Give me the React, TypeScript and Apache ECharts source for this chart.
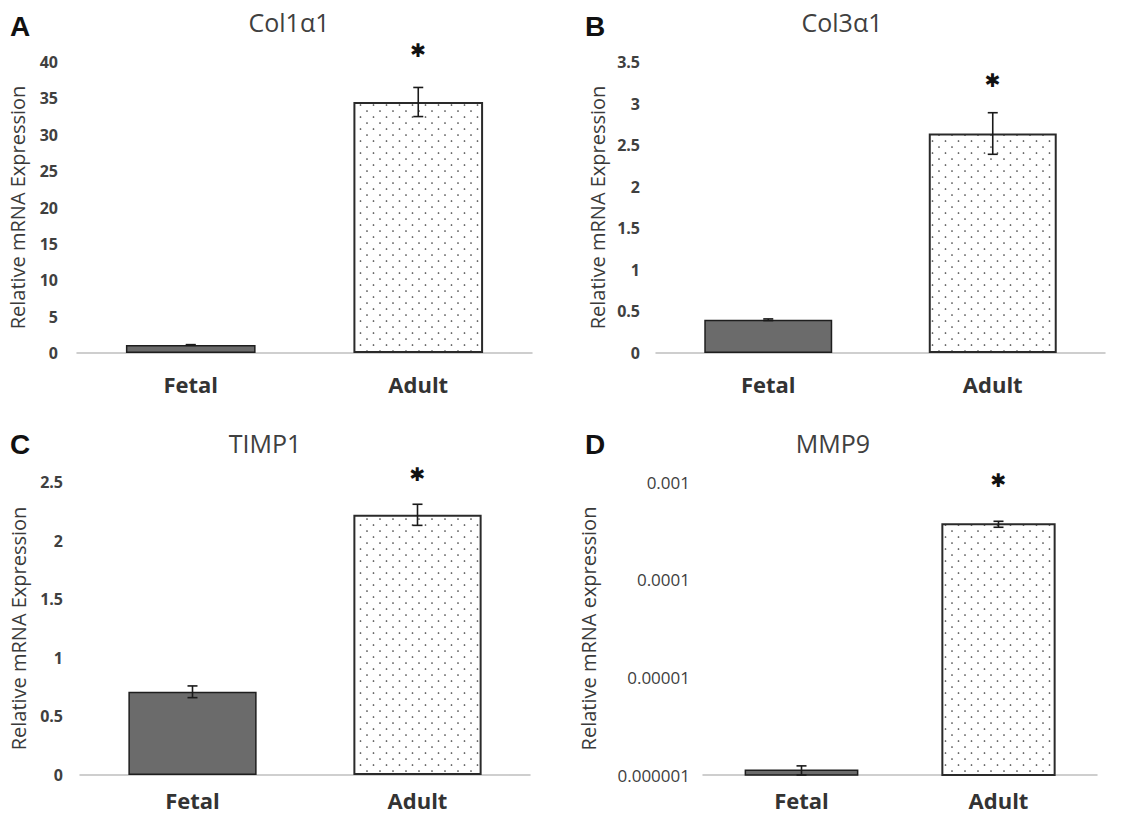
import React, { useEffect, useRef } from "react";
import * as echarts from "echarts";

// ---------- data ----------
const categories = ["Fetal", "Adult"];

const col1Values = [1.1, 34.5];
const col1Errors = [0.05, 2.0];

const col3Values = [0.4, 2.64];
const col3Errors = [0.01, 0.25];

const timp1Values = [0.71, 2.22];
const timp1Errors = [0.05, 0.09];

const mmp9Values = [1.12e-6, 3.7e-4];
const mmp9Errors = [0.12e-6, 0.26e-4];

// level (in data units) of the significance asterisk above the Adult bar
const starLevels = [41.6, 3.28, 2.57, 1.05e-3];

const mmp9TickLabels = ["0.000001", "0.00001", "0.0001", "0.001"];

const panelTitles = ["Col1\u03b11", "Col3\u03b11", "TIMP1", "MMP9"];
const panelLetters = ["A", "B", "C", "D"];

// ---------- styling ----------
const FONT = "'Open Sans', 'DejaVu Sans', sans-serif";
const TXT = "#404040";
const FETAL_FILL = "#6b6b6b";

function makeDotPattern(): any {
  const c = document.createElement("canvas");
  c.width = 13;
  c.height = 12;
  const g = c.getContext("2d")!;
  g.fillStyle = "#ffffff";
  g.fillRect(0, 0, 13, 12);
  g.fillStyle = "#3a3a3a";
  g.beginPath();
  g.arc(3, 3, 0.85, 0, Math.PI * 2);
  g.fill();
  g.beginPath();
  g.arc(9.5, 9, 0.85, 0, Math.PI * 2);
  g.fill();
  return { image: c, repeat: "repeat" };
}

export default function App() {
  const ref = useRef<HTMLDivElement>(null);

  useEffect(() => {
    document.body.style.margin = "0";
    const chart = echarts.init(ref.current!, null, { renderer: "svg" });
    const dots = makeDotPattern();

    const grids = [
      { left: 77, top: 62, width: 455, height: 291 },
      { left: 656, top: 62, width: 449, height: 291 },
      { left: 80, top: 482, width: 450, height: 293 },
      { left: 703, top: 482, width: 394, height: 293 },
    ];

    const valueSets = [col1Values, col3Values, timp1Values, mmp9Values];
    const errorSets = [col1Errors, col3Errors, timp1Errors, mmp9Errors];
    const yRanges = [
      { min: 0, max: 40, interval: 5 },
      { min: 0, max: 3.5, interval: 0.5 },
      { min: 0, max: 2.5, interval: 0.5 },
    ];
    const labelMargins = [19, 16, 17, 13];
    const nameGaps = [50, 49, 52, 105];
    const catMargins = [20, 20, 14, 14];

    const xAxes = grids.map((_, i) => ({
      gridIndex: i,
      type: "category",
      data: categories,
      position: "bottom",
      axisLine: { onZero: false, lineStyle: { color: "#bfbfbf", width: 1.5 } },
      axisTick: { show: false },
      axisLabel: {
        color: "#333333",
        fontFamily: FONT,
        fontWeight: "bold",
        fontSize: 22,
        margin: catMargins[i],
      },
    }));

    const yAxes: any[] = grids.map((_, i) => {
      const base: any = {
        gridIndex: i,
        name: i === 3 ? "Relative mRNA expression" : "Relative mRNA Expression",
        nameLocation: "middle",
        nameRotate: 90,
        nameGap: nameGaps[i],
        nameTextStyle: { color: "#3a3a3a", fontFamily: FONT, fontSize: 20 },
        axisLine: { show: false },
        axisTick: { show: false },
        splitLine: { show: false },
        axisLabel: {
          color: TXT,
          fontFamily: FONT,
          fontSize: i === 3 ? 17 : 16,
          fontWeight: i === 3 ? "normal" : "bold",
          margin: labelMargins[i],
        },
      };
      if (i < 3) {
        return { ...base, type: "value", ...yRanges[i] };
      }
      return {
        ...base,
        type: "log",
        logBase: 10,
        min: 1e-6,
        max: 1e-3,
        splitNumber: 3,
        axisLabel: {
          ...base.axisLabel,
          formatter: (v: number) => mmp9TickLabels[Math.round(Math.log10(v)) + 6],
        },
      };
    });

    const series: any[] = [];

    // bars for linear panels
    for (let i = 0; i < 3; i++) {
      series.push({
        type: "bar",
        xAxisIndex: i,
        yAxisIndex: i,
        barWidth: "57%",
        data: valueSets[i].map((v, k) => ({
          value: v,
          itemStyle:
            k === 0
              ? { color: FETAL_FILL, borderColor: "#1e1e1e", borderWidth: 1.5 }
              : { color: dots, borderColor: "#2a2a2a", borderWidth: 2 },
        })),
      });
    }

    // bars for the log panel (drawn from the axis minimum)
    series.push({
      type: "custom",
      xAxisIndex: 3,
      yAxisIndex: 3,
      data: mmp9Values.map((v, k) => [k, v]),
      renderItem: (params: any, api: any) => {
        const k = api.value(0);
        const top = api.coord([k, api.value(1)]);
        const base = api.coord([k, 1e-6]);
        const band = api.size([1, 0])[0];
        const w = band * 0.57;
        return {
          type: "rect",
          shape: { x: top[0] - w / 2, y: top[1], width: w, height: base[1] - top[1] },
          style:
            k === 0
              ? { fill: FETAL_FILL, stroke: "#1e1e1e", lineWidth: 1.5 }
              : { fill: dots, stroke: "#2a2a2a", lineWidth: 2 },
        };
      },
    });

    // error bars
    for (let i = 0; i < 4; i++) {
      series.push({
        type: "custom",
        xAxisIndex: i,
        yAxisIndex: i,
        z: 5,
        data: valueSets[i].map((v, k) => [k, v - errorSets[i][k], v + errorSets[i][k]]),
        renderItem: (params: any, api: any) => {
          const k = api.value(0);
          const lo = api.coord([k, api.value(1)]);
          const hi = api.coord([k, api.value(2)]);
          const x = hi[0];
          const cap = 5;
          const st = { stroke: "#1a1a1a", lineWidth: 1.6 };
          return {
            type: "group",
            children: [
              { type: "line", shape: { x1: x, y1: hi[1], x2: x, y2: lo[1] }, style: st },
              { type: "line", shape: { x1: x - cap, y1: hi[1], x2: x + cap, y2: hi[1] }, style: st },
              { type: "line", shape: { x1: x - cap, y1: lo[1], x2: x + cap, y2: lo[1] }, style: st },
            ],
          };
        },
      });
    }

    // significance asterisks
    for (let i = 0; i < 4; i++) {
      series.push({
        type: "custom",
        xAxisIndex: i,
        yAxisIndex: i,
        z: 6,
        data: [[1, starLevels[i]]],
        renderItem: (params: any, api: any) => {
          const p = api.coord([api.value(0), api.value(1)]);
          return {
            type: "text",
            x: p[0],
            y: p[1],
            style: {
              text: "\u2731",
              fill: "#111111",
              fontFamily: "'DejaVu Sans', sans-serif",
              fontSize: 19,
              align: "center",
              verticalAlign: "middle",
            },
          };
        },
      });
    }

    const titlePos = [
      [289, 22],
      [842, 22],
      [265, 443],
      [833, 443],
    ];
    const letterPos = [
      [10, 26],
      [585, 26],
      [10, 444],
      [585, 444],
    ];
    const graphic: any[] = [];
    for (let i = 0; i < 4; i++) {
      graphic.push({
        type: "text",
        x: titlePos[i][0],
        y: titlePos[i][1],
        style: {
          text: panelTitles[i],
          fill: TXT,
          fontFamily: FONT,
          fontSize: 25,
          align: "center",
          verticalAlign: "middle",
        },
      });
      graphic.push({
        type: "text",
        x: letterPos[i][0],
        y: letterPos[i][1],
        style: {
          text: panelLetters[i],
          fill: "#111111",
          fontFamily: "'Liberation Sans', Arial, sans-serif",
          fontWeight: "bold",
          fontSize: 28,
          align: "left",
          verticalAlign: "middle",
        },
      });
    }

    chart.setOption({
      animation: false,
      backgroundColor: "#ffffff",
      grid: grids,
      xAxis: xAxes,
      yAxis: yAxes,
      series,
      graphic,
    });

    return () => chart.dispose();
  }, []);

  return <div ref={ref} style={{ width: 1122, height: 816 }} />;
}
